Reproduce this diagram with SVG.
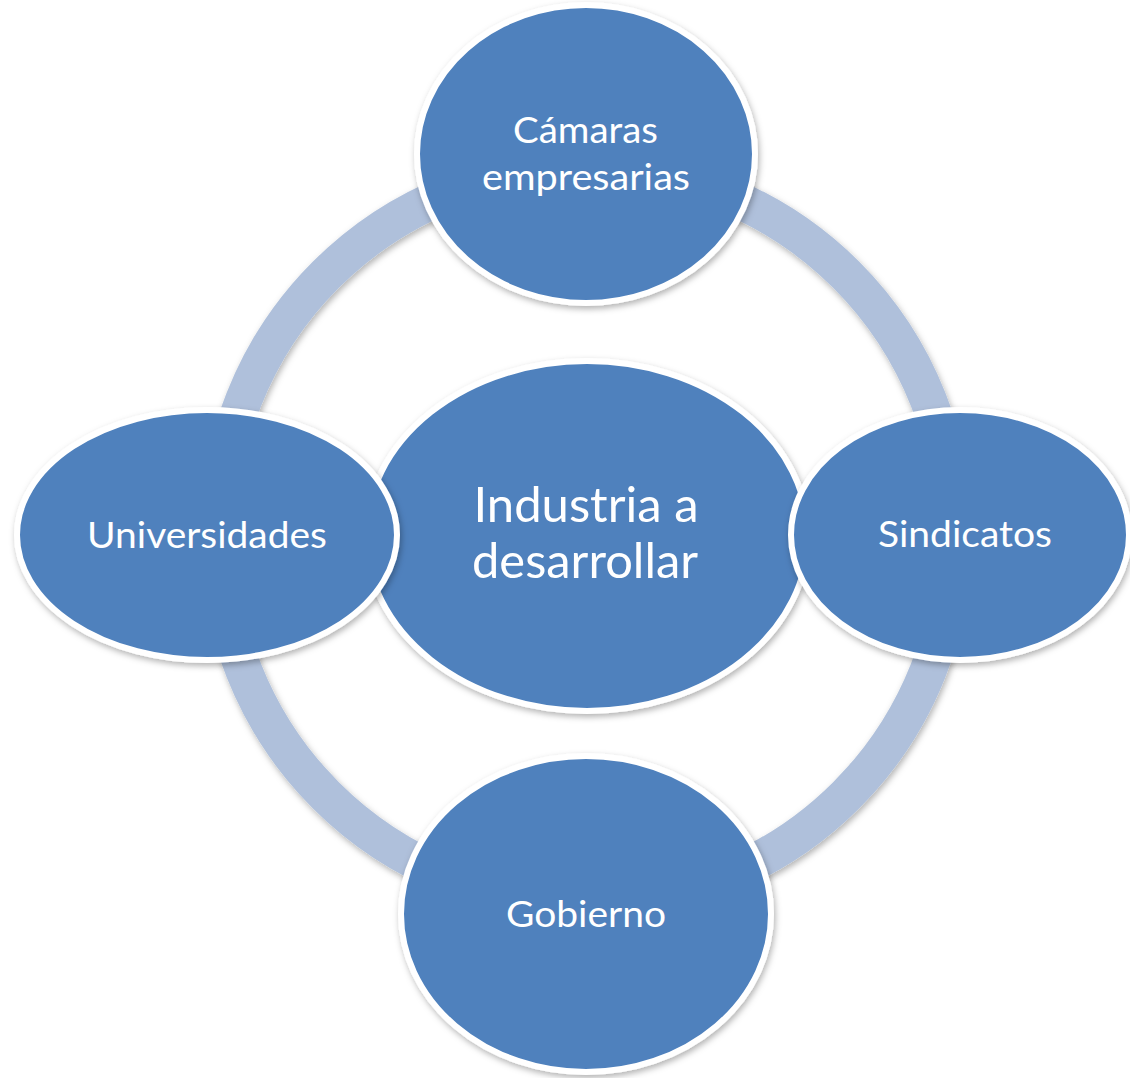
<svg xmlns="http://www.w3.org/2000/svg" width="1130" height="1078" viewBox="0 0 1130 1078">
  <defs>
    <filter id="shadow" x="-10%" y="-10%" width="120%" height="120%">
      <feDropShadow dx="1.5" dy="3" stdDeviation="3" flood-color="#000" flood-opacity="0.3"/>
    </filter>
  </defs>
  <style>
    .node { fill: #4F81BD; stroke: #FFFFFF; stroke-width: 6; filter: url(#shadow); }
    .ring { fill: none; stroke: #AFC0DB; stroke-width: 37; filter: url(#shadow); }
    .lbl { font-family: Lato, "Open Sans", "Liberation Sans", sans-serif; fill: #FFFFFF; text-anchor: middle; font-size: 37px; }
    .big { font-size: 48px; }
  </style>
  <rect width="1130" height="1078" fill="#FFFFFF"/>
  <g id="connectors">
    <circle class="ring" cx="586" cy="535" r="368"/>
  </g>
  <g id="node-center">
    <ellipse class="node" cx="587" cy="536" rx="221" ry="175"/>
    <text class="lbl big" x="586" y="522" textLength="225" lengthAdjust="spacingAndGlyphs">Industria a</text>
    <text class="lbl big" x="585" y="578" textLength="226" lengthAdjust="spacingAndGlyphs">desarrollar</text>
  </g>
  <g id="node-top">
    <ellipse class="node" cx="586" cy="154" rx="169" ry="149"/>
    <text class="lbl" x="585.5" y="143" textLength="145" lengthAdjust="spacingAndGlyphs">Cámaras</text>
    <text class="lbl" x="586" y="190" textLength="208" lengthAdjust="spacingAndGlyphs">empresarias</text>
  </g>
  <g id="node-left">
    <ellipse class="node" cx="207" cy="535" rx="190" ry="125"/>
    <text class="lbl" x="207" y="548" textLength="240" lengthAdjust="spacingAndGlyphs">Universidades</text>
  </g>
  <g id="node-right">
    <ellipse class="node" cx="960" cy="535" rx="169" ry="125"/>
    <text class="lbl" x="965" y="547" textLength="174" lengthAdjust="spacingAndGlyphs">Sindicatos</text>
  </g>
  <g id="node-bottom">
    <ellipse class="node" cx="586" cy="914" rx="185" ry="158"/>
    <text class="lbl" x="586" y="927" textLength="160" lengthAdjust="spacingAndGlyphs">Gobierno</text>
  </g>
</svg>
